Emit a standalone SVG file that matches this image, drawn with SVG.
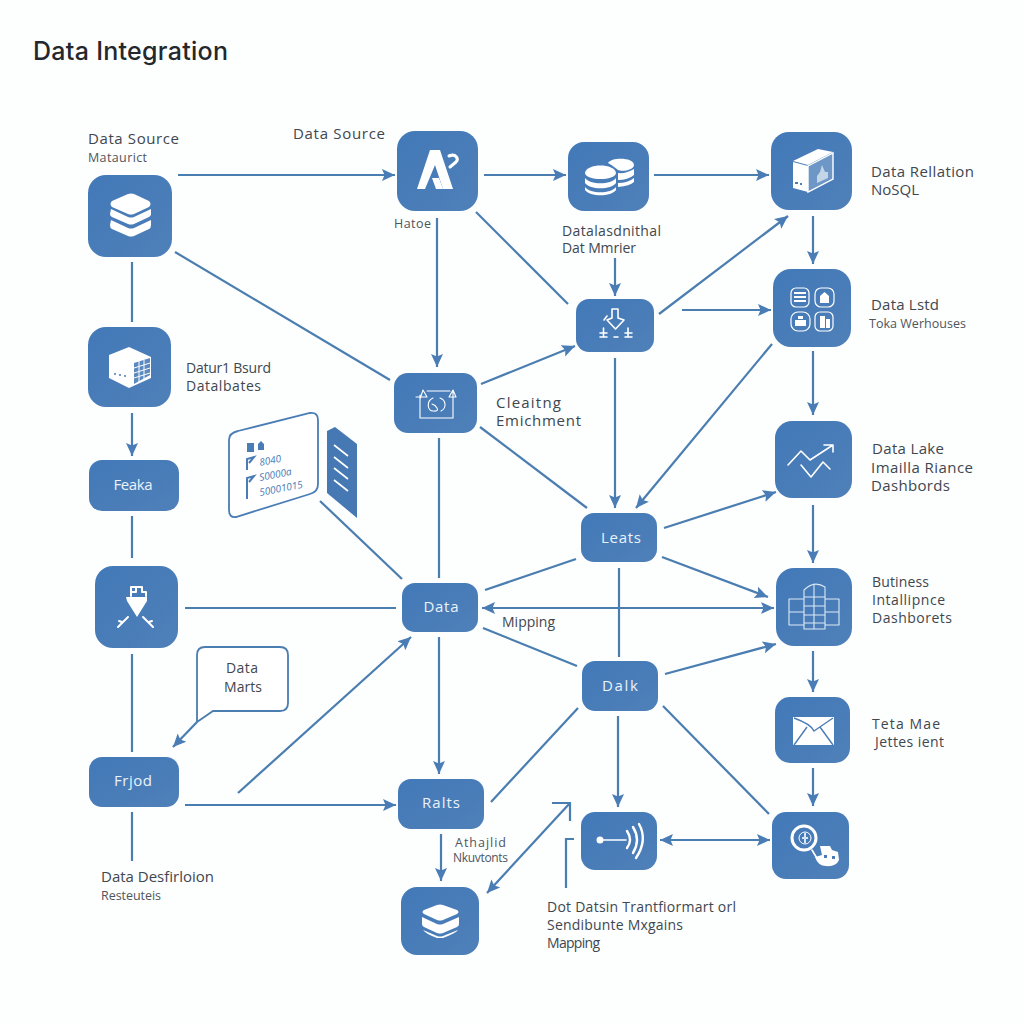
<svg xmlns="http://www.w3.org/2000/svg" width="1024" height="1024" viewBox="0 0 1024 1024">
<defs>
<marker id="ah" markerUnits="userSpaceOnUse" markerWidth="14" markerHeight="14" refX="13" refY="7" orient="auto-start-reverse"><path d="M0 1L13 7L0 13L2.500 7Z" fill="#4a7db5"/></marker>
<linearGradient id="nf" x1="0" y1="0" x2="1" y2="1"><stop offset="0" stop-color="#4279b8"/><stop offset="1" stop-color="#4f80b8"/></linearGradient>
</defs>
<style>
.n{fill:url(#nf)}
.c{fill:none;stroke:#4a7db0;stroke-width:2.200}
.a{marker-end:url(#ah)}
.b{marker-start:url(#ah);marker-end:url(#ah)}
.w{fill:#fff}
.o{fill:none;stroke:#fff;stroke-width:1.600;stroke-linecap:round;stroke-linejoin:round}
.t{font-family:"Open Sans","Noto Sans","Liberation Sans",sans-serif;fill:#40474f;font-size:15px}
.m{font-size:14px}
.s{font-size:12.500px;fill:#4f555d}
.x{font-size:12px}
.l{font-family:"Open Sans","Noto Sans","Liberation Sans",sans-serif;fill:#eaf2fa;font-size:15px;text-anchor:middle}
.k{font-family:"Open Sans","Noto Sans","Liberation Sans",sans-serif;fill:#4a7db5;font-size:10px;font-style:italic}
</style>
<rect width="1024" height="1024" fill="#fdfefe"/>
<text id="title" x="33" y="60" textLength="195" lengthAdjust="spacing" style="font-family:Inter,'Open Sans','Liberation Sans',sans-serif;font-size:25px;font-weight:500;fill:#24282d">Data Integration</text>

<g id="connectors">
<path class="c a" d="M178 175H395"/>
<path class="c a" d="M484 175H566"/>
<path class="c a" d="M654 175H769"/>
<path class="c a" d="M813 216V264"/>
<path class="c a" d="M813 351V415"/>
<path class="c a" d="M813 505V563"/>
<path class="c a" d="M813 651V692"/>
<path class="c a" d="M813 768V806"/>
<path class="c" d="M132 262V322"/>
<path class="c a" d="M132 413V456"/>
<path class="c" d="M132 516V558"/>
<path class="c" d="M132 654V752"/>
<path class="c" d="M132 812V861"/>
<path class="c" d="M175 252L390 380"/>
<path class="c a" d="M437 218V367"/>
<path class="c" d="M476 212L568 304"/>
<path class="c a" d="M481 384L575 346"/>
<path class="c a" d="M659 314L788 216"/>
<path class="c a" d="M682 310H771"/>
<path class="c a" d="M615 258V296"/>
<path class="c a" d="M615 358V508"/>
<path class="c a" d="M772 344L636 508"/>
<path class="c" d="M480 427L587 508"/>
<path class="c" d="M439 438V578"/>
<path class="c" d="M320 501L402 579"/>
<path class="c" d="M185 608H396"/>
<path class="c a" d="M238 793L411 637"/>
<path class="c a" d="M439 637V774"/>
<path class="c a" d="M185 805H396"/>
<path class="c a" d="M441 834V881"/>
<path class="c" d="M491 802L578 708"/>
<path class="c a" d="M570 803L487 893"/>
<path class="c" d="M552 803H570V821"/>
<path class="c" d="M566 888V839H574"/>
<path class="c" d="M483 628L577 666"/>
<path class="c" d="M485 590L576 559"/>
<path class="c" d="M619 568V657"/>
<path class="c b" d="M482 608H774"/>
<path class="c a" d="M664 528L776 492"/>
<path class="c a" d="M662 557L768 597"/>
<path class="c a" d="M665 674L776 644"/>
<path class="c a" d="M618 716V807"/>
<path class="c" d="M663 706L769 814"/>
<path class="c b" d="M660 840H770"/>
</g>

<g id="node-source">
<rect class="n" x="88" y="175" width="84" height="82" rx="18"/>
<path class="w" d="M128 194Q131 193 134 194L149 201Q152 204 149 207L134 214Q131 215 128 214L112 207Q109 204 112 201Z"/>
<path class="w" d="M111 209L128 217Q131 218 134 217L151 209V214Q151 216 149 217L134 224Q131 225 128 224L112 217Q110 216 110 214Z"/>
<path class="w" d="M111 220L128 228Q131 229 134 228L151 220V225Q151 228 149 229L134 236Q131 237 128 236L112 229Q110 228 110 225Z"/>
</g>
<g id="node-a">
<rect class="n" x="397" y="131" width="81" height="80" rx="18"/>
<path class="w" d="M430 150H440L453 189H443L435 165L425 189H417Z"/>
<path class="w" d="M432 178H439L443 189H436Z"/>
<path class="o" style="stroke-width:3" d="M449 156C456 153 459 159 456 162L450 167"/>
</g>
<g id="node-stack">
<rect class="n" x="568" y="142" width="81" height="69" rx="16"/>
<g class="w">
<path d="M608 163C611 157 634 157 634 165C634 170 622 172 618 170Q612 165 608 163Z"/>
<path d="M618 173Q626 174 634 169V175Q628 180 618 180Z"/>
<path d="M618 183Q628 183 634 178V182Q630 186 618 187Z"/>
<path d="M585 173C586 163 615 163 616 173C615 181 586 181 585 173Z"/>
<path d="M585 178C590 185 611 185 616 178V183C611 190 590 190 585 183Z"/>
<path d="M585 187C590 194 611 194 616 187V190C611 197 590 197 585 190Z"/>
</g>
</g>
<g id="node-box">
<rect class="n" x="771" y="132" width="81" height="78" rx="18"/>
<path class="w" d="M793 162L808 166V192L793 188Z"/>
<path class="w" d="M793 161L818 149L833 152L808 165Z"/>
<path class="w" d="M808 166L833 153V179L808 192Z" style="fill-opacity:.2;stroke:#fff;stroke-width:1.400"/>
<path class="w" d="M817 183V176L820 172L822 165L825 172L828 172V178Z" style="fill-opacity:.6"/>
<path d="M795 183h3M800 184h2" stroke="#4a7db5" stroke-width="2"/>
</g>
<g id="node-warehouse">
<rect class="n" x="773" y="269" width="78" height="78" rx="18"/>
<g class="o" style="stroke-width:1.200">
<rect x="791" y="288" width="18" height="19" rx="5"/><rect x="815" y="288" width="19" height="19" rx="6"/>
<rect x="791" y="312" width="19" height="19" rx="7"/><rect x="815" y="312" width="18" height="19" rx="5"/>
</g>
<path class="w" d="M794 292h12v2h-12zM794 296h12v2h-12zM794 300h12v2h-12zM820 296l4.500-4 4.500 4v7h-9zM795 320h11v6h-11zM798 316h5v3h-5zM820 316h5v12h-5zM826 319h4v9h-4z"/>
</g>
<g id="node-funnel">
<rect class="n" x="576" y="299" width="78" height="53" rx="13"/>
<path class="o" d="M612 309V318L607 320L615.500 329L624 320L618 318V309ZM607 316L604 320"/>
<path class="o" d="M600 333H607M603.500 328V337M600 337H607M625 333H632M628 328V337M625 337H632M614 337H618"/>
</g>
<g id="node-chart">
<rect class="n" x="775" y="421" width="77" height="77" rx="17"/>
<path class="o" d="M788 465L801 451L810 460L833 445M824 445H833V452M801 465L811 477L823 462L830 469"/>
</g>
<g id="node-cube">
<rect class="n" x="88" y="327" width="83" height="80" rx="18"/>
<path class="w" d="M129 347L151 357V378L129 388L109 378V355Z"/>
<path d="M134 363L150 358V375L134 384Z" fill="#5a8abf"/>
<path d="M139 361V382M144 360V380M134 368L150 363M134 373L150 368M134 378L150 373" stroke="#fff" stroke-width="1"/>
<path d="M114 374h2M119 375h2M124 376h2" stroke="#4a7db5" stroke-width="1.500"/>
</g>
<g id="node-refresh">
<rect class="n" x="394" y="373" width="83" height="60" rx="14"/>
<path class="o" style="stroke-width:1.100" d="M420 395V418H453V395M427 391H450M420 399L423 390L427 397H416M453 399V392M449 397L453 390L456 397Z"/>
<path class="o" style="stroke-width:1.100" d="M433 398C426 401 427 412 434 411C441 412 436 405 432 404M440 398C446 400 447 408 441 411"/>
</g>
<g id="node-feaka">
<rect class="n" x="89" y="460" width="90" height="51" rx="13"/>
<text class="l" x="133" y="490" textLength="39" lengthAdjust="spacing">Feaka</text>
</g>
<g id="node-card">
<path d="M238 431L310 413Q318 412 318 420V484Q318 492 310 494L236 517Q229 518 229 510V440Q229 433 238 431Z" fill="#fff" stroke="#4a7db5" stroke-width="1.800"/>
<path d="M247 443h7v9h-7zM258 444l3-3 3 3v6h-6z" fill="#4a7db5"/>
<path d="M247 470V459L254 457L249 463M247 490V478L254 476L249 482M247 499V487" fill="none" stroke="#4a7db5" stroke-width="2"/>
<text class="k" x="260" y="466" transform="rotate(-11 260 466)">8040</text>
<text class="k" x="260" y="481" transform="rotate(-11 260 481)">S0000a</text>
<text class="k" x="260" y="496" transform="rotate(-11 260 496)">50001015</text>
<path d="M327 431L335 427L357 444V518L327 493Z" fill="#4679b4"/>
<path d="M334 445L348 456M334 457L348 468M334 468L348 479M334 480L348 491" stroke="#fff" stroke-width="1.600"/>
</g>
<g id="node-ship">
<rect class="n" x="95" y="566" width="83" height="82" rx="18"/>
<path class="w" d="M126 597H147L147 601L137 617L127 601Z"/>
<path class="o" style="stroke-width:2" d="M131 596V587H136M141 587H136V592H131M142 587V592H146V596M118 627L128 617M122 622L119 621M153 627L143 617M149 622L152 621"/>
</g>
<g id="node-data">
<rect class="n" x="402" y="583" width="76" height="49" rx="13"/>
<text class="l" x="441" y="612" textLength="35" lengthAdjust="spacing">Data</text>
</g>
<g id="node-leats">
<rect class="n" x="581" y="513" width="76" height="49" rx="13"/>
<text class="l" x="621" y="543" textLength="40" lengthAdjust="spacing">Leats</text>
</g>
<g id="node-dalk">
<rect class="n" x="582" y="661" width="76" height="50" rx="13"/>
<text class="l" x="620" y="691" textLength="36" lengthAdjust="spacing">Dalk</text>
</g>
<g id="node-bi">
<rect class="n" x="776" y="568" width="76" height="78" rx="18"/>
<path class="o" style="stroke-width:1.100;stroke:#dce9f6" d="M804 629V590Q814 580 825 587V629ZM804 597H825M804 606H825M804 615H825M804 623H825M814 584V629M789 599H804V625H789ZM789 612H804M825 599H839V625H825ZM825 612H839"/>
</g>
<g id="node-mail">
<rect class="n" x="775" y="697" width="75" height="66" rx="15"/>
<path class="w" d="M793 717H834V745H793Z"/>
<path d="M794 718C805 722 812 726 814 731L833 718M794 745L807 727M833 745L820 727" fill="none" stroke="#4a7db5" stroke-width="1.400"/>
</g>
<g id="node-marts">
<path d="M205 647H280Q288 647 288 655V703Q288 711 280 711H213L197 722V655Q197 647 205 647Z" fill="#fff" stroke="#4a7db0" stroke-width="1.800"/>
<text class="t m" x="226" y="673" textLength="32" lengthAdjust="spacing">Data</text>
<text class="t m" x="224" y="692" textLength="38" lengthAdjust="spacing">Marts</text>
<path class="c a" d="M197 722L173 747"/>
</g>
<g id="node-frjod">
<rect class="n" x="89" y="757" width="90" height="50" rx="13"/>
<text class="l" x="133" y="786" textLength="38" lengthAdjust="spacing">Frjod</text>
</g>
<g id="node-ralts">
<rect class="n" x="398" y="779" width="86" height="50" rx="13"/>
<text class="l" x="441" y="808" textLength="38" lengthAdjust="spacing">Ralts</text>
</g>
<g id="node-db2">
<rect class="n" x="401" y="887" width="78" height="68" rx="16"/>
<path class="w" d="M437 905Q440 904 443 905L457 910Q460 912 457 914L443 920Q440 921 437 920L424 914Q421 912 424 910Z"/>
<path class="w" d="M422 917L437 924Q440 925 443 924L459 917V924Q459 926 457 927L443 933Q440 934 437 933L424 927Q422 926 422 924Z"/>
<path class="w" d="M423 930L437 936Q440 937 443 936L458 930Q456 933 443 938H437Q426 934 423 930Z"/>
</g>
<g id="node-wave">
<rect class="n" x="581" y="812" width="76" height="58" rx="14"/>
<circle class="w" cx="600" cy="840" r="3.500"/>
<path class="o" d="M600 840H626"/>
<path class="o" style="stroke-width:2.400" d="M627 831Q633 840 627 848M633 827Q641 840 633 853M639 824Q648 840 636 858"/>
</g>
<g id="node-coin">
<rect class="n" x="772" y="812" width="77" height="67" rx="14"/>
<circle cx="804" cy="838" r="12" fill="none" stroke="#fff" stroke-width="3"/>
<circle cx="805" cy="838" r="6" fill="none" stroke="#fff" stroke-width="1"/>
<path d="M805 833v10M802 838h6" stroke="#d7e5f3" stroke-width="2"/>
<path class="o" d="M812 850L818 860"/>
<path class="w" d="M820 846H830L832 850L838 852L839 860Q836 867 826 866Q818 866 815 857L822 855Z"/>
<path d="M824 855h3v3h-3zM832 856h3v3h-3z" fill="#4a7db5"/>
</g>

<g id="labels">
<text class="t" x="88" y="144" textLength="91" lengthAdjust="spacing">Data Source</text>
<text class="t s" x="88" y="162" textLength="59" lengthAdjust="spacing">Mataurict</text>
<text class="t" x="293" y="139" textLength="92" lengthAdjust="spacing">Data Source</text>
<text class="t s" x="394" y="228" textLength="37" lengthAdjust="spacing">Hatoe</text>
<text class="t m" x="562" y="236" textLength="99" lengthAdjust="spacing">Datalasdnithal</text>
<text class="t m" x="562" y="253" textLength="74" lengthAdjust="spacing">Dat Mmrier</text>
<text class="t" x="871" y="177" textLength="103" lengthAdjust="spacing">Data Rellation</text>
<text class="t" x="871" y="195" textLength="48" lengthAdjust="spacing">NoSQL</text>
<text class="t" x="871" y="310" textLength="68" lengthAdjust="spacing">Data Lstd</text>
<text class="t s" x="869" y="328" textLength="97" lengthAdjust="spacing">Toka Werhouses</text>
<text class="t" x="496" y="408" textLength="65" lengthAdjust="spacing">Cleaitng</text>
<text class="t" x="496" y="426" textLength="85" lengthAdjust="spacing">Emichment</text>
<text class="t" x="872" y="454" textLength="72" lengthAdjust="spacing">Data Lake</text>
<text class="t" x="871" y="473" textLength="102" lengthAdjust="spacing">Imailla Riance</text>
<text class="t" x="871" y="491" textLength="79" lengthAdjust="spacing">Dashbords</text>
<text class="t m" x="186" y="373" textLength="85" lengthAdjust="spacing">Datur1 Bsurd</text>
<text class="t m" x="186" y="391" textLength="75" lengthAdjust="spacing">Datalbates</text>
<text class="t m" x="872" y="587" textLength="57" lengthAdjust="spacing">Butiness</text>
<text class="t m" x="872" y="605" textLength="73" lengthAdjust="spacing">Intallipnce</text>
<text class="t m" x="872" y="623" textLength="80" lengthAdjust="spacing">Dashborets</text>
<text class="t m" x="502" y="627" textLength="53" lengthAdjust="spacing">Mipping</text>
<text class="t m" x="872" y="729" textLength="68" lengthAdjust="spacing">Teta Mae</text>
<text class="t m" x="875" y="747" textLength="69" lengthAdjust="spacing">Jettes ient</text>
<text class="t" x="101" y="882" textLength="113" lengthAdjust="spacing">Data Desfirloion</text>
<text class="t s" x="101" y="900" textLength="60" lengthAdjust="spacing">Resteuteis</text>
<text class="t s" x="455" y="847" textLength="51" lengthAdjust="spacing">Athajlid</text>
<text class="t s x" x="453" y="862" textLength="55" lengthAdjust="spacing">Nkuvtonts</text>
<text class="t m" x="547" y="912" textLength="189" lengthAdjust="spacing">Dot Datsin Trantfiormart orl</text>
<text class="t m" x="547" y="930" textLength="136" lengthAdjust="spacing">Sendibunte Mxgains</text>
<text class="t m" x="547" y="948" textLength="53" lengthAdjust="spacing">Mapping</text>
</g>
</svg>
